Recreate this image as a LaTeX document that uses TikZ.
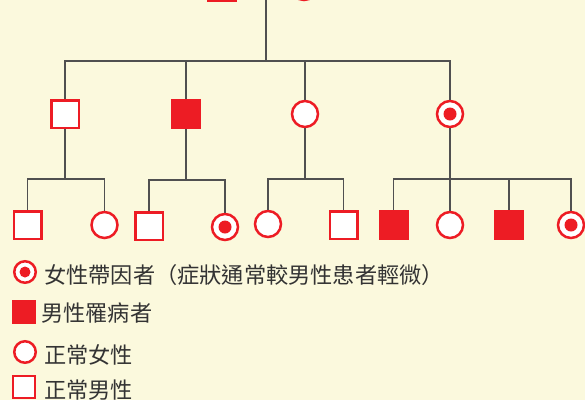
\documentclass[tikz,border=0pt]{standalone}
\usepackage{fontspec}
\newfontfamily\cjk{Noto Sans CJK TC}
\definecolor{bg}{HTML}{FBF9DD}
\definecolor{pred}{HTML}{ED1C24}
\definecolor{lgray}{HTML}{505050}
\definecolor{txt}{HTML}{333333}
\begin{document}
\begin{tikzpicture}[x=1pt,y=-1pt,
  conn/.style={draw=lgray, line width=1.2pt},
  male/.style={rectangle, draw=pred, line width=2.5pt, fill=white, minimum size=27.5pt, inner sep=0pt},
  affected/.style={rectangle, fill=pred, minimum size=30pt, inner sep=0pt},
  female/.style={circle, draw=pred, line width=2.5pt, fill=white, minimum size=26pt, inner sep=0pt},
  carrier/.style={female, path picture={\fill[pred] (path picture bounding box.center) circle (6.5pt);}},
  lmale/.style={male, minimum size=22pt},
  laffected/.style={affected, minimum size=24pt},
  lfemale/.style={female, minimum size=21.5pt},
  lcarrier/.style={lfemale, path picture={\fill[pred] (path picture bounding box.center) circle (5.5pt);}},
  ltext/.style={anchor=west, inner sep=0pt, text=txt, font=\cjk\fontsize{22.2}{22}\selectfont}
]
\path[use as bounding box, fill=bg] (0,0) rectangle (585,400);
\clip (0,0) rectangle (585,400);

% generation 1 (cut off at top)
\node[male] (g1m) at (222,-13) {};
\node[female] (g1f) at (304,-13) {};
\draw[conn] (g1m) -- (g1f);
\coordinate (g1c) at (266,-13);
\coordinate (b1) at (266,61);
\draw[conn] (g1c) -- (b1);

% generation 2
\node[male] (p1) at (65,114) {};
\node[affected] (p2) at (186,114) {};
\node[female] (p3) at (305,114) {};
\node[carrier] (p4) at (450,114) {};
\draw[conn] (p1) |- (b1) -| (p4);
\draw[conn] (p2) -- (p2|-b1);
\draw[conn] (p3) -- (p3|-b1);

% generation 3
\node[male] (a1) at (27.5,225) {};
\node[female] (a2) at (104.5,225) {};
\node[male] (b1c) at (149,226) {};
\node[carrier] (b2c) at (225,227) {};
\node[female] (c1) at (268,224) {};
\node[male] (c2) at (343.5,225) {};
\node[affected] (d1) at (393.5,225) {};
\node[female] (d2) at (450,225) {};
\node[affected] (d3) at (509,225) {};
\node[carrier] (d4) at (571,225) {};

\coordinate (ja) at (65,179);
\coordinate (jb) at (186,180);
\coordinate (jc) at (305,179);
\coordinate (jd) at (450,179);
\draw[conn] (p1) -- (ja);
\draw[conn] (a1) |- (ja) -| (a2);
\draw[conn] (p2) -- (jb);
\draw[conn] (b1c) |- (jb) -| (b2c);
\draw[conn] (p3) -- (jc);
\draw[conn] (c1) |- (jc) -| (c2);
\draw[conn] (p4) -- (d2);
\draw[conn] (d1) |- (jd) -| (d4);
\draw[conn] (d3) -- (d3|-jd);

% legend
\node[lcarrier] (l1) at (25,272) {};
\node[ltext] (t1) at (44,275) {女性帶因者（症狀通常較男性患者輕微）};
\node[laffected] (l2) at (24,312) {};
\node[ltext] (t2) at (41,313) {男性罹病者};
\node[lfemale] (l3) at (25,352) {};
\node[ltext] (t3) at (44,355) {正常女性};
\node[lmale] (l4) at (24,387) {};
\node[ltext] (t4) at (44,390) {正常男性};
\end{tikzpicture}
\end{document}
